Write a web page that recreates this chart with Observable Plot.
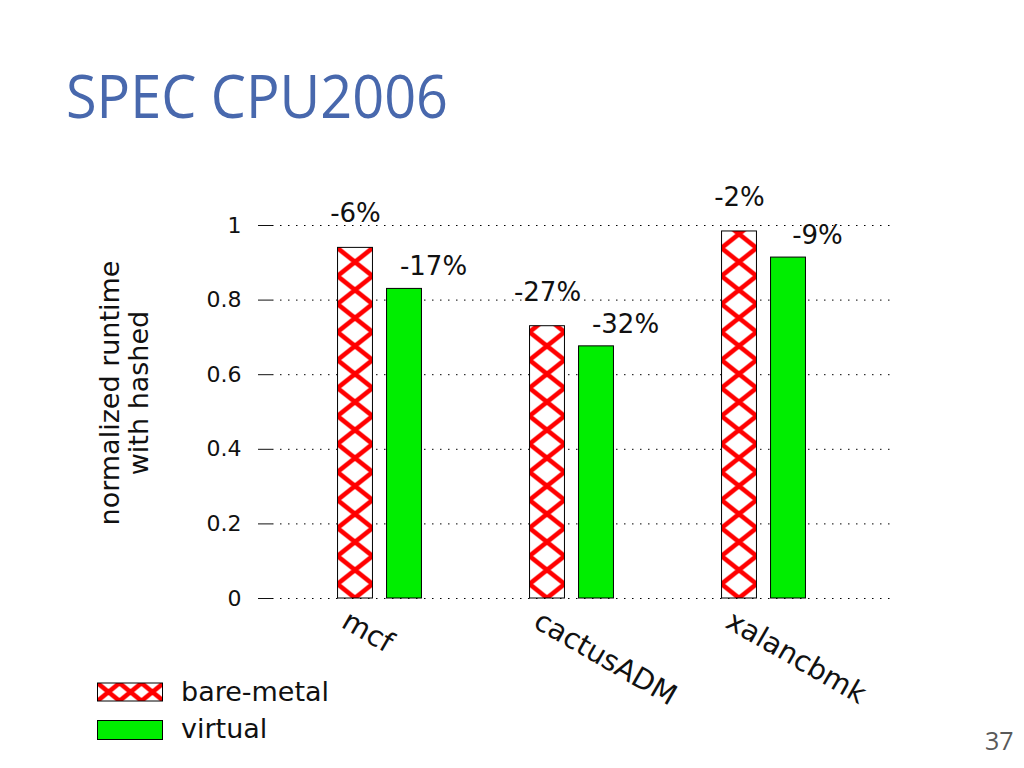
<!DOCTYPE html>
<html>
<head>
<meta charset="utf-8">
<script src="https://cdn.jsdelivr.net/npm/d3@7"></script>
<script src="https://cdn.jsdelivr.net/npm/@observablehq/plot@0.6"></script>
<style>
  html, body { margin: 0; padding: 0; background: #fff; }
  body { width: 1024px; height: 768px; position: relative; overflow: hidden; }
  #chart { position: absolute; left: 0; top: 0; }
  #overlay { position: absolute; left: 0; top: 0; pointer-events: none; }
</style>
</head>
<body>
<div id="chart"></div>
<svg id="overlay" width="1024" height="768"></svg>
<script>
// ---- data ----
const categories = ["mcf", "cactusADM", "xalancbmk"];
const seriesNames = ["bare-metal", "virtual"];
const bareMetal = [0.94, 0.73, 0.984];
const virtualVals = [0.83, 0.676, 0.914];
const bareLabels = ["-6%", "-27%", "-2%"];
const virtualLabels = ["-17%", "-32%", "-9%"];
const yTicks = [0, 0.2, 0.4, 0.6, 0.8, 1];
const yLabelLines = ["normalized runtime", "with hashed"];
const titleText = "SPEC CPU2006";
const pageNumber = "37";

const rows = categories.map((c, i) => ({
  category: c,
  bare: bareMetal[i],
  virt: virtualVals[i],
  bareLabel: bareLabels[i],
  virtLabel: virtualLabels[i]
}));

// ---- layout ----
const W = 1024, H = 768;
const mLeft = 272, mRight = 131, mTop = 225, mBottom = 170;
const pad = 0.234, align = 0.378;
const barW = 35, half = 24.5;
const bandW = d3.scaleBand().domain(categories).range([mLeft, W - mRight])
  .paddingInner(pad).paddingOuter(pad).align(align).bandwidth();
const inset = (bandW - barW) / 2;
const green = "#00ee00";
const hatchMarker = "#fefefe";

const chart = Plot.plot({
  width: W,
  height: H,
  marginLeft: mLeft,
  marginRight: mRight,
  marginTop: mTop,
  marginBottom: mBottom,
  style: { fontFamily: "DejaVu Sans", fontSize: "27px", color: "#111", background: "transparent", overflow: "visible" },
  x: { type: "band", domain: categories, padding: pad, align: align, axis: null },
  y: { domain: [0, 1], axis: null },
  marks: [
    Plot.ruleY(yTicks, { stroke: "#000", strokeWidth: 1, strokeDasharray: "1.5,6.5" }),
    Plot.axisY({ ticks: yTicks, tickSize: 14, tickPadding: 17, tickFormat: d => String(d), fontSize: 22, label: null }),
    Plot.text([yLabelLines.join("\n")], {
      frameAnchor: "left", dx: -148, dy: -19, rotate: -90,
      textAnchor: "middle", lineAnchor: "middle", fontSize: 27, lineHeight: 1.04
    }),
    Plot.barY(rows, {
      x: "category", y: "bare", dx: -half, insetLeft: inset, insetRight: inset,
      fill: hatchMarker, stroke: "#000", strokeWidth: 1
    }),
    Plot.barY(rows, {
      x: "category", y: "virt", dx: half, insetLeft: inset, insetRight: inset,
      fill: green, stroke: "#000", strokeWidth: 1
    }),
    Plot.text(rows, { x: "category", y: "bare", text: "bareLabel", dx: -half, dy: -34, fontSize: 26 }),
    Plot.text(rows, { x: "category", y: "virt", text: "virtLabel", dx: half + 29, dy: -22, fontSize: 26 }),
    Plot.text(categories, {
      x: d => d, frameAnchor: "bottom", text: d => d, dx: -40, dy: 28, rotate: 30,
      textAnchor: "start", lineAnchor: "bottom", fontSize: 28.5
    })
  ]
});
document.getElementById("chart").appendChild(chart);

// ---- cross-hatch pattern for bare-metal bars ----
const NS = "http://www.w3.org/2000/svg";
function makeHatch(svg, id, x0, y0, tw, th, sw) {
  let defs = svg.querySelector("defs");
  if (!defs) { defs = document.createElementNS(NS, "defs"); svg.insertBefore(defs, svg.firstChild); }
  const p = document.createElementNS(NS, "pattern");
  p.setAttribute("id", id);
  p.setAttribute("patternUnits", "userSpaceOnUse");
  p.setAttribute("x", x0); p.setAttribute("y", y0);
  p.setAttribute("width", tw); p.setAttribute("height", th);
  const bg = document.createElementNS(NS, "rect");
  bg.setAttribute("width", tw); bg.setAttribute("height", th); bg.setAttribute("fill", "#fff");
  p.appendChild(bg);
  for (const ox of [-tw, 0, tw]) for (const oy of [-th, 0, th]) {
    for (const [a, b, c, d] of [[0, 0, tw, th], [tw, 0, 0, th]]) {
      const l = document.createElementNS(NS, "line");
      l.setAttribute("x1", a + ox); l.setAttribute("y1", b + oy);
      l.setAttribute("x2", c + ox); l.setAttribute("y2", d + oy);
      l.setAttribute("stroke", "#ff0000"); l.setAttribute("stroke-width", sw);
      p.appendChild(l);
    }
  }
  defs.appendChild(p);
  return `url(#${id})`;
}
const y0px = H - mBottom;
let hatchRects = [];
chart.querySelectorAll("g").forEach(g => {
  if ((g.getAttribute("fill") || "").toLowerCase() === hatchMarker) hatchRects.push(...g.querySelectorAll("rect"));
});
if (!hatchRects.length) {
  chart.querySelectorAll("rect").forEach(r => {
    if ((r.getAttribute("fill") || "").toLowerCase() === hatchMarker) hatchRects.push(r);
  });
}
hatchRects.forEach((r, i) => {
  const rx = +r.getAttribute("x");
  const rw = +r.getAttribute("width");
  r.setAttribute("fill", makeHatch(chart, "hatch" + i, rx, y0px - 14, rw, 28, 4.5));
});

// ---- overlay: title, legend, page number ----
const ov = document.getElementById("overlay");
function txt(x, y, s, attrs) {
  const t = document.createElementNS(NS, "text");
  t.setAttribute("x", x); t.setAttribute("y", y);
  for (const k in attrs) t.setAttribute(k, attrs[k]);
  t.textContent = s;
  ov.appendChild(t);
  return t;
}
txt(66, 118, titleText, { "font-family": "Open Sans", "font-size": 60, fill: "#4868ad", textLength: 382, lengthAdjust: "spacingAndGlyphs" });
txt(985, 750, pageNumber, { "font-family": "Open Sans", "font-size": 25, fill: "#595959" });

const legFill = makeHatch(ov, "leghatch", 97.5, 683, 22, 18, 4.5);
const sw1 = document.createElementNS(NS, "rect");
sw1.setAttribute("x", 97.5); sw1.setAttribute("y", 683); sw1.setAttribute("width", 65); sw1.setAttribute("height", 18);
sw1.setAttribute("fill", legFill); sw1.setAttribute("stroke", "#000");
ov.appendChild(sw1);
const sw2 = document.createElementNS(NS, "rect");
sw2.setAttribute("x", 97.5); sw2.setAttribute("y", 720.5); sw2.setAttribute("width", 65); sw2.setAttribute("height", 19);
sw2.setAttribute("fill", green); sw2.setAttribute("stroke", "#000");
ov.appendChild(sw2);
txt(181, 701, seriesNames[0], { "font-family": "DejaVu Sans", "font-size": 27, fill: "#111" });
txt(181, 738, seriesNames[1], { "font-family": "DejaVu Sans", "font-size": 27, fill: "#111" });
</script>
</body>
</html>
